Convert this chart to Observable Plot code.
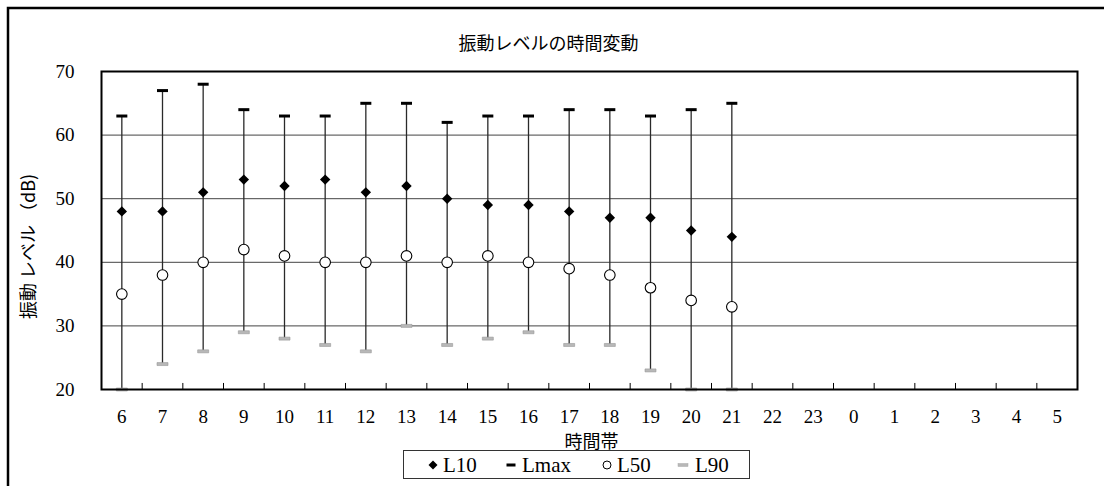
<!DOCTYPE html>
<html>
<head>
<meta charset="utf-8">
<script src="https://cdn.jsdelivr.net/npm/d3@7"></script>
<script src="https://cdn.jsdelivr.net/npm/@observablehq/plot@0.6"></script>
<style>
  html, body { margin: 0; padding: 0; background: #fff; }
  #chart svg { display: block; }
</style>
</head>
<body>
<div id="chart"></div>
<script>
// ---- data ----
const hours = [6,7,8,9,10,11,12,13,14,15,16,17,18,19,20,21,22,23,0,1,2,3,4,5];
const measuredHours = [6,7,8,9,10,11,12,13,14,15,16,17,18,19,20,21];
const L10  = [48,48,51,53,52,53,51,52,50,49,49,48,47,47,45,44];
const Lmax = [63,67,68,64,63,63,65,65,62,63,63,64,64,63,64,65];
const L50  = [35,38,40,42,41,40,40,41,40,41,40,39,38,36,34,33];
const L90  = [20,24,26,29,28,27,26,30,27,28,29,27,27,23,20,20];
const yTicks = [20,30,40,50,60,70];
const gridValues = [30,40,50,60];
const titleText = "振動レベルの時間変動";
const xLabel = "時間帯";
const yLabel = "振動 レベル （dB)";
const legendItems = ["L10","Lmax","L50","L90"];

const rows = measuredHours.map((h, i) => ({
  idx: hours.indexOf(h), hour: h, L10: L10[i], Lmax: Lmax[i], L50: L50[i], L90: L90[i]
}));
const tickIdx = d3.range(hours.length);
const boundaries = d3.range(1, hours.length).map(i => i - 0.5);

// custom symbols (sizes in terms of Plot r: size = PI r^2)
const hdash = { draw(ctx, size) { const r = Math.sqrt(size / Math.PI); ctx.rect(-r, -1.5, 2 * r, 3); } };
const diamond = { draw(ctx, size) { const r = Math.sqrt(size / Math.PI); ctx.moveTo(0, -r); ctx.lineTo(r, 0); ctx.lineTo(0, r); ctx.lineTo(-r, 0); ctx.closePath(); } };

const serif = "'Liberation Serif', 'DejaVu Serif', serif";
const jp = "'Noto Sans CJK JP', sans-serif";

const plot = Plot.plot({
  width: 1104,
  height: 486,
  marginLeft: 101,
  marginRight: 27,
  marginTop: 71,
  marginBottom: 97,
  style: { background: "#fff", fontFamily: serif, overflow: "visible" },
  x: { type: "linear", domain: [-0.5, hours.length - 0.5] },
  y: { domain: [20, 70] },
  marks: [
    Plot.ruleY(gridValues, { stroke: "#444", strokeWidth: 1 }),
    Plot.ruleX(boundaries, { y1: 20, y2: 20.95, stroke: "#000", strokeWidth: 1 }),
    Plot.ruleX(rows, { x: "idx", y1: "L90", y2: "Lmax", stroke: "#2a2a2a", strokeWidth: 1.3 }),
    Plot.dot(rows, { x: "idx", y: "L90", symbol: hdash, r: 5.5, fill: "#b8b8b8", stroke: "#999", strokeWidth: 0.6 }),
    Plot.dot(rows, { x: "idx", y: "Lmax", symbol: hdash, r: 5.5, fill: "#000", stroke: "none" }),
    Plot.dot(rows, { x: "idx", y: "L10", symbol: diamond, r: 5.2, fill: "#000", stroke: "none" }),
    Plot.dot(rows, { x: "idx", y: "L50", r: 5.3, fill: "#fff", stroke: "#000", strokeWidth: 1.1 }),
    Plot.frame({ stroke: "#000", strokeWidth: 2 }),
    Plot.axisY({ ticks: yTicks, tickSize: 0, tickPadding: 27, fontSize: 19, fontFamily: serif, fontWeight: "normal", label: null, fill: "#000" }),
    Plot.axisX({ ticks: tickIdx, tickFormat: i => String(hours[i]), tickSize: 0, tickPadding: 20, fontSize: 19, fontFamily: serif, fontWeight: "normal", label: null, fill: "#000" }),
    Plot.text([titleText], { text: d => d, frameAnchor: "top", lineAnchor: "middle", textAnchor: "middle", dy: -27, dx: -41, fontSize: 18, fontFamily: jp, fill: "#000", letterSpacing: "3px" }),
    Plot.text([xLabel], { text: d => d, frameAnchor: "bottom", lineAnchor: "middle", textAnchor: "middle", dy: 53, dx: 2, fontSize: 18, fontFamily: jp, fill: "#000", letterSpacing: "2px" }),
    Plot.text([yLabel], { text: d => d, frameAnchor: "left", lineAnchor: "middle", textAnchor: "middle", dx: -72, dy: 16, rotate: -90, fontSize: 18, fontFamily: jp, fill: "#000", letterSpacing: "3px" })
  ]
});

document.getElementById("chart").appendChild(plot);

// outer chart-area border and legend (decoration)
const svg = d3.select(plot);
svg.insert("rect", ":first-child")
  .attr("x", 8).attr("y", 8).attr("width", 1200).attr("height", 600)
  .attr("fill", "none").attr("stroke", "#000").attr("stroke-width", 2.5);

const lg = svg.append("g").attr("font-family", serif).attr("font-size", 21).attr("text-anchor", "start");
lg.append("rect").attr("x", 403.5).attr("y", 450.5).attr("width", 346).attr("height", 28)
  .attr("fill", "#fff").attr("stroke", "#333").attr("stroke-width", 1);
const cy = 465;
const markerX = [433, 511, 607, 683];
const textX = [443, 522, 617, 695];
// L10 diamond
lg.append("path").attr("d", `M${markerX[0]},${cy-4.5}L${markerX[0]+4.5},${cy}L${markerX[0]},${cy+4.5}L${markerX[0]-4.5},${cy}Z`).attr("fill", "#000");
// Lmax dash
lg.append("rect").attr("x", markerX[1]-4.5).attr("y", cy-1.5).attr("width", 9).attr("height", 3).attr("fill", "#000");
// L50 circle
lg.append("circle").attr("cx", markerX[2]).attr("cy", cy).attr("r", 4).attr("fill", "#fff").attr("stroke", "#000").attr("stroke-width", 1);
// L90 dash
lg.append("rect").attr("x", markerX[3]-5).attr("y", cy-1.5).attr("width", 10).attr("height", 3).attr("fill", "#b8b8b8").attr("stroke", "#aaa").attr("stroke-width", 0.5);
legendItems.forEach((t, i) => {
  lg.append("text").attr("x", textX[i]).attr("y", cy).attr("dy", "0.35em").attr("text-anchor", "start").attr("fill", "#000").text(t);
});
</script>
</body>
</html>
